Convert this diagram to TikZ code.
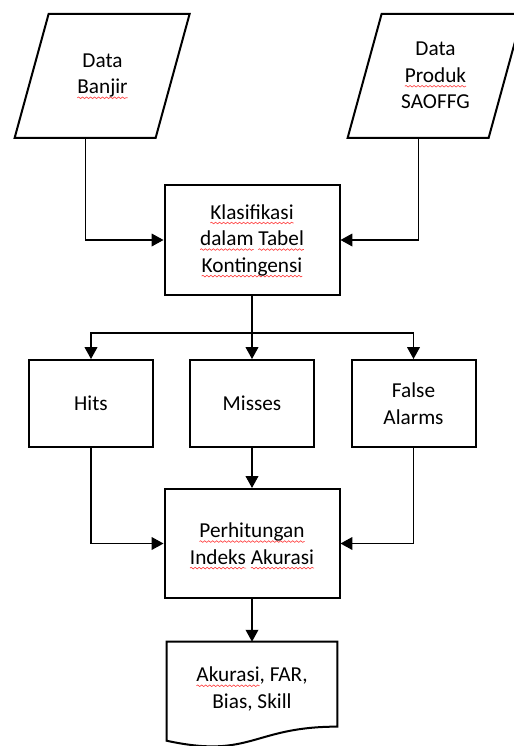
\documentclass[tikz,border=0pt]{standalone}
\usepackage{fontspec}
\setmainfont{Carlito}
\usetikzlibrary{arrows.meta,decorations.pathmorphing}
% red wavy underline of the spell checker
\newlength\salahw
\newcommand\salah[1]{\settowidth\salahw{#1}%
  \tikz[overlay,baseline=0pt]\draw[red!75,line width=0.35pt,decorate,
    decoration={snake,amplitude=0.45pt,segment length=2.2pt}]
    (0pt,-2.2pt) -- (\salahw,-2.2pt);#1}
\begin{document}
\begin{tikzpicture}[x=0.55pt,y=-0.55pt,line width=0.6pt,
  font=\fontsize{11.7}{14.6}\selectfont,
  box/.style={draw,line width=1.1pt,align=center},
  io/.style={align=center,minimum width=77.55pt,minimum height=68.2pt},
  big/.style={box,minimum width=96.25pt,minimum height=60.5pt},
  small/.style={box,minimum width=68.2pt,minimum height=47.85pt},
  arr/.style={-{Triangle[length=6.5pt,width=7pt]}}]
  \useasboundingbox (0,0) rectangle (513,746);
  % input data
  \node[io] (banjir) at (102.5,75.5) {Data\\\salah{Banjir}};
  \node[io] (produk) at (435.5,75.5) {Data\\\salah{Produk}\\SAOFFG};
  \foreach \n in {banjir,produk}{
    \draw[line width=1.1pt] (\n.south west) ++(-17,0) -- ++(141,0)
      -- ++(34,-124) -- ++(-141,0) -- cycle;}
  % contingency table
  \node[big] (klas) at (252,240)
    {\salah{Klasifikasi}\\\salah{dalam} \salah{Tabel}\\\salah{Kontingensi}};
  \draw[arr] ([xshift=-9.35pt]banjir.south) |- (klas.west);
  \draw[arr] ([xshift=-9.35pt]produk.south) |- (klas.east);
  % categories
  \node[small] (hits) at (91,403.5) {Hits};
  \node[small] (misses) at (252,403.5) {Misses};
  \node[small] (falarm) at (413.5,403.5) {False\\Alarms};
  \coordinate (split) at (klas.south |- 0,333);
  \draw (klas.south) -- (split);
  \foreach \n in {hits,misses,falarm}{\draw[arr] (split) -| (\n.north);}
  % accuracy index
  \node[big,minimum height=60pt] (akur) at (252,543.5)
    {\salah{Perhitungan}\\\salah{Indeks} \salah{Akurasi}};
  \draw[arr] (hits.south) |- (akur.west);
  \draw[arr] (falarm.south) |- (akur.east);
  \draw[arr] (misses.south) -- (akur.north);
  % output document
  \node[align=center,minimum width=93.5pt,minimum height=51.7pt] (doc) at (252,689)
    {\salah{Akurasi}, FAR,\\Bias, Skill};
  \draw[line width=1.1pt] (doc.north west) -- (doc.north east) -- ++(0,85)
    .. controls +(-85,0) and +(85,18.4) .. ([yshift=-54.5pt]doc.north west) -- cycle;
  \draw[arr] (akur.south) -- (doc.north);
\end{tikzpicture}
\end{document}
